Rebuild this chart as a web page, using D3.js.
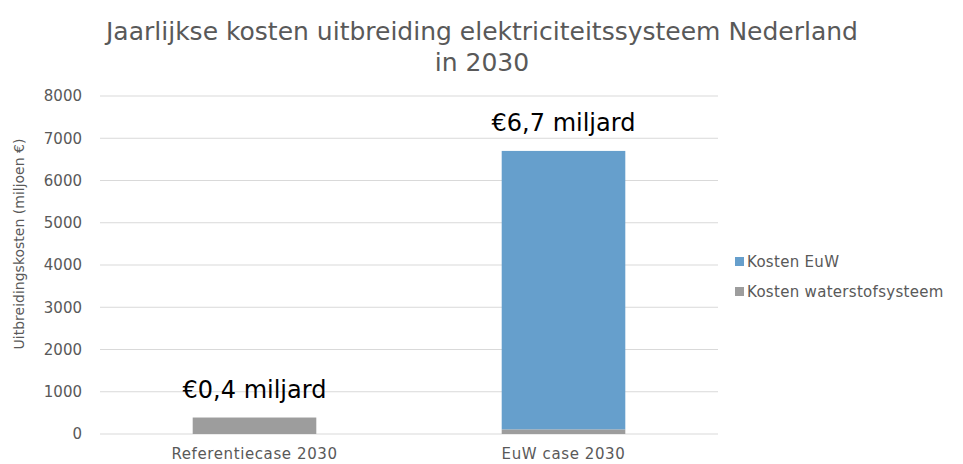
<!DOCTYPE html>
<html>
<head>
<meta charset="utf-8">
<script src="https://cdn.jsdelivr.net/npm/d3@7"></script>
<style>
  body { margin: 0; background: #fff; }
  text { font-family: "DejaVu Sans", sans-serif; }
</style>
</head>
<body>
<div id="chart"></div>
<script>
// data (miljoen euro)
var categories = ["Referentiecase 2030", "EuW case 2030"];
var waterstofValues = [390, 110];
var euwValues = [0, 6590];
var barLabels = ["€0,4 miljard", "€6,7 miljard"];
var seriesNames = ["Kosten EuW", "Kosten waterstofsysteem"];
var yTicks = [0, 1000, 2000, 3000, 4000, 5000, 6000, 7000, 8000];

var W = 963, H = 464;
var margin = {top: 96, left: 100, right: 245, bottom: 30};
var width = W - margin.left - margin.right,
    height = H - margin.top - margin.bottom;

var colors = {euw: "#669fcc", waterstof: "#9d9d9d"};

var svg = d3.select("#chart").append("svg")
    .attr("width", W)
    .attr("height", H);

// title
var title = svg.append("text")
    .attr("text-anchor", "middle")
    .attr("fill", "#595959")
    .attr("font-size", "25px");
title.append("tspan").attr("x", 482).attr("y", 40)
    .text("Jaarlijkse kosten uitbreiding elektriciteitssysteem Nederland");
title.append("tspan").attr("x", 482).attr("y", 71)
    .text("in 2030");

var g = svg.append("g")
    .attr("transform", "translate(" + margin.left + "," + margin.top + ")");

var x = d3.scaleBand()
    .domain(categories)
    .range([0, width])
    .paddingInner(0.6)
    .paddingOuter(0.3);
var y = d3.scaleLinear()
    .domain([0, 8000])
    .range([height, 0]);

// gridlines
g.selectAll("line.grid")
  .data(yTicks)
  .enter().append("line")
  .attr("class", "grid")
  .attr("x1", 0).attr("x2", width)
  .attr("y1", function(d) { return y(d); })
  .attr("y2", function(d) { return y(d); })
  .attr("stroke", "#d9d9d9")
  .attr("stroke-width", 1);

// y axis
var yAxis = g.append("g")
    .call(d3.axisLeft(y).tickValues(yTicks).tickFormat(d3.format("d")).tickSize(0).tickPadding(18));
yAxis.select(".domain").remove();
yAxis.selectAll("text")
    .attr("fill", "#595959")
    .attr("font-size", "15px")
    .style("font-family", "DejaVu Sans, sans-serif");

// x axis
var xAxis = g.append("g")
    .attr("transform", "translate(0," + height + ")")
    .call(d3.axisBottom(x).tickSize(0).tickPadding(14));
xAxis.select(".domain").remove();
xAxis.selectAll("text")
    .attr("fill", "#595959")
    .attr("font-size", "15px")
    .attr("letter-spacing", "0.6px")
    .style("font-family", "DejaVu Sans, sans-serif");

// stacked bars
var rows = categories.map(function(c, i) {
  return {cat: c, waterstof: waterstofValues[i], euw: euwValues[i]};
});
var stack = d3.stack().keys(["waterstof", "euw"]);
var layers = stack(rows);

g.selectAll("g.layer")
  .data(layers)
  .enter().append("g")
  .attr("class", "layer")
  .attr("fill", function(d) { return colors[d.key]; })
  .selectAll("rect")
  .data(function(d) { return d; })
  .enter().append("rect")
  .attr("x", function(d) { return x(d.data.cat); })
  .attr("width", x.bandwidth())
  .attr("y", function(d) { return y(d[1]); })
  .attr("height", function(d) { return y(d[0]) - y(d[1]); });

// labels above bars
g.selectAll("text.total")
  .data(rows)
  .enter().append("text")
  .attr("class", "total")
  .attr("text-anchor", "middle")
  .attr("x", function(d) { return x(d.cat) + x.bandwidth() / 2; })
  .attr("y", function(d) { return y(d.waterstof + d.euw) - 20; })
  .attr("font-size", "24px")
  .attr("fill", "#000")
  .style("font-family", "DejaVu Sans, sans-serif")
  .text(function(d, i) { return barLabels[i]; });

// y axis title
svg.append("text")
    .attr("transform", "translate(24,244) rotate(-90)")
    .attr("text-anchor", "middle")
    .attr("fill", "#595959")
    .attr("font-size", "14px")
    .text("Uitbreidingskosten (miljoen €)");

// legend
var legendColors = [colors.euw, colors.waterstof];
var legend = svg.selectAll("g.legend")
  .data(seriesNames)
  .enter().append("g")
  .attr("class", "legend")
  .attr("transform", function(d, i) { return "translate(735," + (262 + i * 30) + ")"; });
legend.append("rect")
  .attr("x", 0).attr("y", -5)
  .attr("width", 9).attr("height", 9)
  .attr("fill", function(d, i) { return legendColors[i]; });
legend.append("text")
  .attr("x", 12).attr("y", 5)
  .attr("fill", "#595959")
  .attr("font-size", "15px")
  .attr("letter-spacing", "0.3px")
  .style("font-family", "DejaVu Sans, sans-serif")
  .text(function(d) { return d; });
</script>
</body>
</html>
